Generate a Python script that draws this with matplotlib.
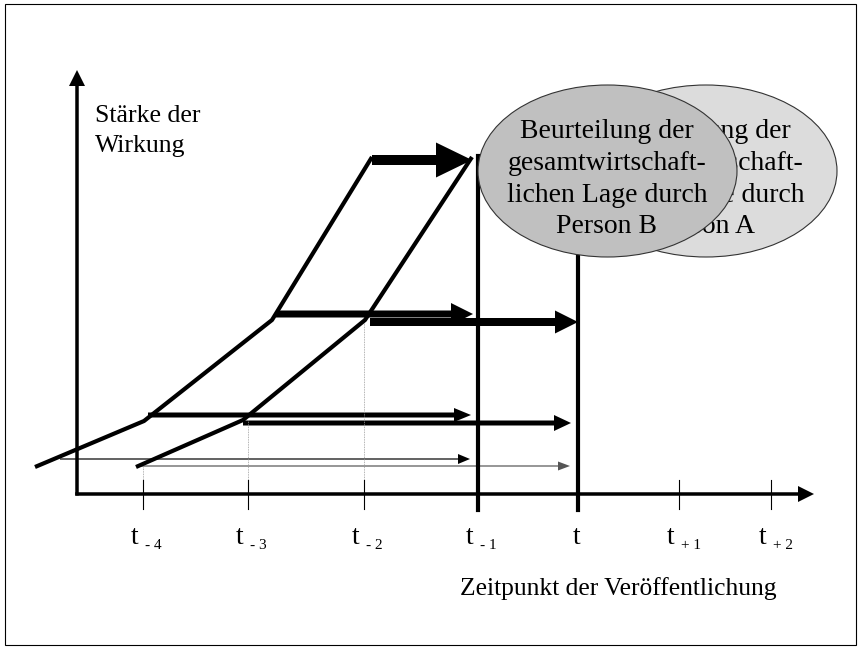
import matplotlib.pyplot as plt
from matplotlib.patches import Ellipse, Rectangle

plt.rcParams['font.family'] = ['Liberation Serif', 'DejaVu Serif']

# Data (picture coordinates, y grows downwards)
tick_x = [143, 248, 364, 478, 577, 679, 771]
tick_sub = ['- 4', '- 3', '- 2', '- 1', '', '+ 1', '+ 2']

# curves: person B (left) and person A (right)
curve_b_x = [35, 144, 272, 372]
curve_b_y = [467, 421, 320, 157]
curve_a_x = [136, 243, 365, 472]
curve_a_y = [467, 420, 320, 157]

# horizontal arrows: (start x, end x, level y, shaft width, head width, head length, colour)
arrows_b = [(372, 472, 160, 10, 35, 36, 'black'),
            (276, 473, 314, 7, 22, 22, 'black'),
            (148, 471, 415, 5, 14, 17, 'black'),
            (60, 470, 459, 1.2, 10, 12, 'black')]
arrows_a = [(370, 578, 322, 8, 23, 23, 'black'),
            (243, 571, 423, 5, 16, 17, 'black'),
            (140, 570, 466, 1.2, 9, 12, '#555555')]

# dotted guides from curve knees down to the time axis
guide_x = [143, 248, 364]
guide_top = [467, 420, 320]

lines_b = ['Beurteilung der', 'gesamtwirtschaft-', 'lichen Lage durch', 'Person B']
lines_a = ['Beurteilung der', 'gesamtwirtschaft-', 'lichen Lage durch', 'Person A']
line_base = [138, 170, 202, 233]

fig = plt.figure(figsize=(8.6, 6.49), dpi=100)
ax = fig.add_axes([0, 0, 1, 1])
ax.set_xlim(0, 860)
ax.set_ylim(649, 0)
ax.axis('off')

# frame
ax.add_patch(Rectangle((5, 4), 851, 641, fill=False, ec='black', lw=0.8))

# ellipses with text (A behind B)
ax.add_patch(Ellipse((706, 171), 262, 172, fc='#dcdcdc', ec='#333333', lw=0.8, zorder=5))
for s, yb in zip(lines_a, line_base):
    ax.text(704, yb, s, fontsize=20, ha='center', va='baseline', zorder=6)
ax.add_patch(Ellipse((607.5, 171), 259, 172, fc='#c0c0c0', ec='#333333', lw=0.8, zorder=7))
for s, yb in zip(lines_b, line_base):
    ax.text(607, yb, s, fontsize=20, ha='center', va='baseline', zorder=8)

# axes with arrows
ax.arrow(77, 495.5, 0, 70 - 495.5, width=3.5, head_width=16, head_length=16,
         length_includes_head=True, fc='black', ec='none')
ax.arrow(75.25, 494, 814 - 75.25, 0, width=3.5, head_width=16, head_length=16,
         length_includes_head=True, fc='black', ec='none')

# tick marks and labels
for x, sub in zip(tick_x, tick_sub):
    ax.plot([x, x], [480, 509], color='black', lw=0.8)
    if sub:
        ax.text(x - 5, 544, 't', fontsize=20, ha='right', va='baseline')
        ax.text(x + 2, 549, sub, fontsize=11, ha='left', va='baseline')
    else:
        ax.text(x, 544, 't', fontsize=20, ha='center', va='baseline')

for x, yt in zip(guide_x, guide_top):
    ax.plot([x, x], [yt, 480], color='#999999', lw=0.6, ls=(0, (1, 1)))

# publication lines at t-1 and t
ax.plot([478, 478], [156, 510], color='black', lw=3)
ax.plot([578, 578], [250, 510], color='black', lw=3, zorder=4)

# curves
ax.plot(curve_b_x, curve_b_y, color='black', lw=3, solid_capstyle='butt')
ax.plot(curve_a_x, curve_a_y, color='black', lw=3, solid_capstyle='butt')

for x0, x1, y, w, hw, hl, c in arrows_b + arrows_a:
    ax.arrow(x0, y, x1 - x0, 0, width=w, head_width=hw, head_length=hl,
             length_includes_head=True, fc=c, ec='none')

# axis labels
ax.text(95, 122, 'Stärke der', fontsize=18.5, ha='left', va='baseline')
ax.text(95, 152, 'Wirkung', fontsize=18.5, ha='left', va='baseline')
ax.text(618, 595, 'Zeitpunkt der Veröffentlichung', fontsize=18.4, ha='center', va='baseline')

fig.savefig('out.png', dpi=100)
